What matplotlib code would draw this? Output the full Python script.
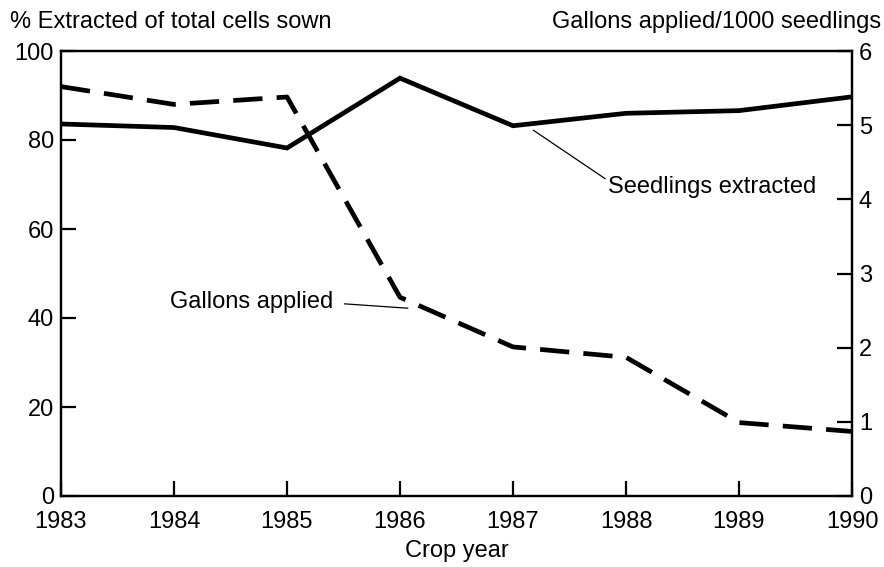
import matplotlib
matplotlib.use("Agg")
import matplotlib.pyplot as plt

plt.rcParams['font.family'] = ['Liberation Sans', 'DejaVu Sans']

years = [1983, 1984, 1985, 1986, 1987, 1988, 1989, 1990]
pct_extracted = [83.6, 82.8, 78.2, 93.9, 83.2, 86.0, 86.6, 89.7]
gallons_per_1000 = [5.52, 5.28, 5.38, 2.68, 2.01, 1.87, 0.99, 0.87]

left_ticks = [0, 20, 40, 60, 80, 100]
right_ticks = [0, 1, 2, 3, 4, 5, 6]

fs = 17

fig = plt.figure(figsize=(8.84, 5.67), dpi=100)
ax = fig.add_axes([61 / 884, 1 - 496 / 567, 791 / 884, 445 / 567])
ax2 = ax.twinx()

ax.plot(years, pct_extracted, color='black', lw=3.4, solid_joinstyle='miter')
ax2.plot(years, gallons_per_1000, color='black', lw=3.4, dashes=(6.2, 3.0))

ax.set_xlim(1983, 1990)
ax.set_ylim(0, 100)
ax2.set_ylim(0, 6)
ax.set_xticks(years)
ax.set_yticks(left_ticks)
ax2.set_yticks(right_ticks)

for a in (ax, ax2):
    for s in a.spines.values():
        s.set_linewidth(1.6)
    a.tick_params(direction='in', length=11, width=1.6, labelsize=fs, pad=5)
ax.tick_params(axis='x', pad=11)

# x label placed by hand so it sits inside the canvas
fig.text(0.5 * (61 + 852) / 884, 1 - 551 / 567, "Crop year",
         fontsize=fs, ha='center', va='center')
fig.text(10 / 884, 1 - 22 / 567, "% Extracted of total cells sown",
         fontsize=fs, ha='left', va='center')
fig.text(881 / 884, 1 - 22 / 567, "Gallons applied/1000 seedlings",
         fontsize=fs, ha='right', va='center')

ax.annotate("Seedlings extracted", xy=(1987.18, 82.2), xytext=(1987.84, 69.4),
            fontsize=fs, va='center', ha='left',
            arrowprops=dict(arrowstyle='-', lw=0.9, color='black',
                            shrinkA=0, shrinkB=0, relpos=(0, 0.8)))
ax.annotate("Gallons applied", xy=(1986.07, 42.2), xytext=(1985.41, 43.6),
            fontsize=fs, va='center', ha='right',
            arrowprops=dict(arrowstyle='-', lw=0.9, color='black',
                            shrinkA=6, shrinkB=0, relpos=(1, 0.45)))

fig.savefig("out.png", dpi=100)
